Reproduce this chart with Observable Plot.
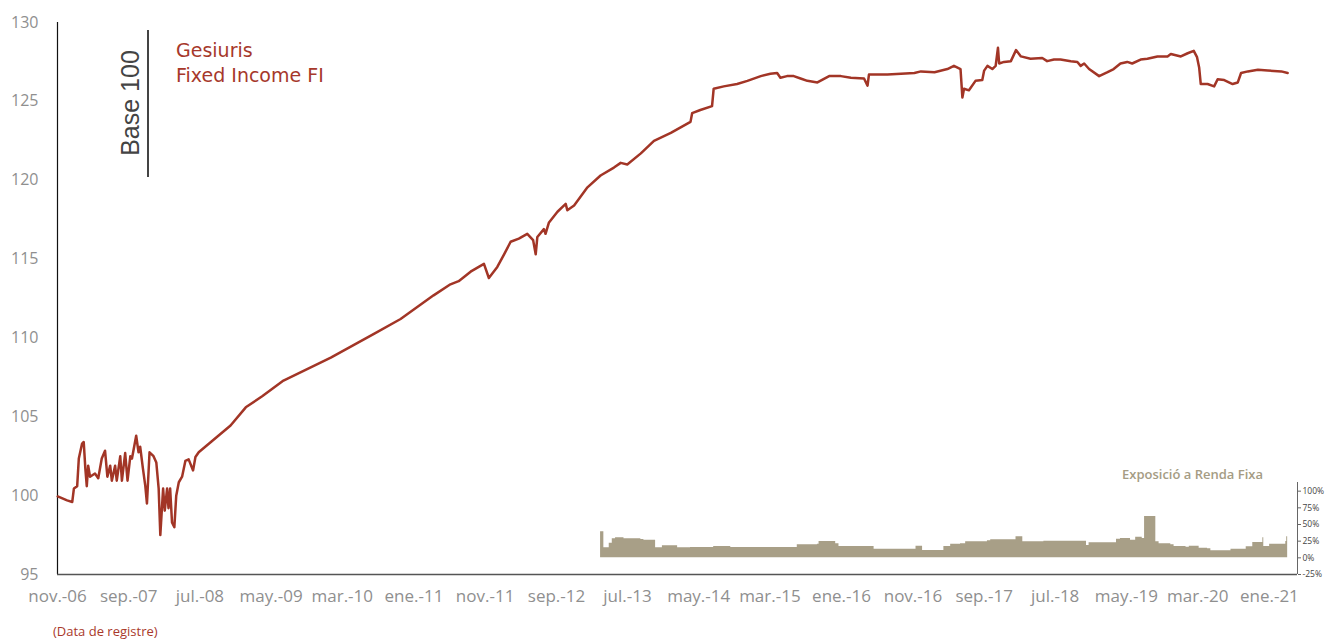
<!DOCTYPE html>
<html>
<head>
<meta charset="utf-8">
<script src="https://cdn.jsdelivr.net/npm/d3@7"></script>
<script src="https://cdn.jsdelivr.net/npm/@observablehq/plot@0.6"></script>
<style>
  body { margin: 0; background: #fff; font-family: "Open Sans", "Noto Sans", sans-serif; }
  #wrap { position: relative; width: 1326px; height: 615px; }
  #wrap svg { position: absolute; left: 0; top: 0; }
  .ann { position: absolute; white-space: nowrap; }
</style>
</head>
<body>
<div id="wrap"></div>
<div id="caption" style="margin-left:53px;margin-top:7px;font-size:13px;color:#a9392b;">(Data de registre)</div>
<script>
// ---- Data: fund NAV (base 100) ----
const navDates = ["2006-11-02","2006-12-12","2007-01-03","2007-01-10","2007-01-24","2007-01-31","2007-02-14","2007-02-21","2007-02-28","2007-03-06","2007-03-12","2007-03-20","2007-04-10","2007-04-24","2007-05-09","2007-05-23","2007-06-02","2007-06-14","2007-06-21","2007-07-05","2007-07-12","2007-07-27","2007-08-03","2007-08-17","2007-08-27","2007-09-08","2007-09-15","2007-10-03","2007-10-13","2007-10-20","2007-11-01","2007-11-11","2007-11-18","2007-11-29","2007-12-16","2007-12-28","2008-01-07","2008-01-14","2008-01-26","2008-02-02","2008-02-12","2008-02-18","2008-02-25","2008-03-04","2008-03-14","2008-03-22","2008-04-02","2008-04-16","2008-04-30","2008-05-14","2008-06-02","2008-06-12","2008-06-26","2008-11-09","2009-01-13","2009-03-24","2009-06-23","2010-01-11","2010-07-20","2010-11-05","2011-03-26","2011-06-06","2011-07-11","2011-08-31","2011-10-27","2011-11-17","2011-12-23","2012-01-21","2012-02-18","2012-03-24","2012-04-29","2012-05-24","2012-06-04","2012-06-11","2012-07-09","2012-07-16","2012-07-30","2012-09-05","2012-10-10","2012-10-17","2012-11-15","2013-01-11","2013-03-08","2013-05-04","2013-06-02","2013-06-30","2013-08-27","2013-10-22","2014-01-02","2014-03-27","2014-04-03","2014-05-08","2014-06-27","2014-07-04","2014-08-16","2014-10-12","2014-11-25","2015-01-21","2015-03-03","2015-04-01","2015-04-15","2015-05-13","2015-06-11","2015-07-10","2015-08-08","2015-09-20","2015-11-09","2015-12-29","2016-02-10","2016-04-06","2016-04-21","2016-04-27","2016-07-15","2016-09-11","2016-11-07","2016-12-05","2017-02-01","2017-03-28","2017-04-25","2017-05-23","2017-05-31","2017-06-07","2017-06-28","2017-07-26","2017-08-24","2017-09-01","2017-09-15","2017-10-06","2017-10-20","2017-10-30","2017-11-04","2017-11-25","2017-12-24","2018-01-15","2018-02-05","2018-03-18","2018-05-07","2018-05-28","2018-06-26","2018-07-24","2018-09-06","2018-10-04","2018-10-18","2018-11-02","2018-11-23","2019-01-05","2019-02-10","2019-03-08","2019-04-06","2019-05-05","2019-05-26","2019-07-01","2019-07-30","2019-09-11","2019-10-24","2019-11-07","2019-12-20","2020-01-18","2020-02-13","2020-02-27","2020-03-07","2020-03-14","2020-04-12","2020-05-10","2020-05-25","2020-06-22","2020-07-28","2020-08-19","2020-09-02","2020-10-01","2020-11-13","2020-12-25","2021-02-21","2021-03-20"];
const navValues = [99.95,99.7,99.6,100.45,100.6,102.35,103.3,103.4,101.7,100.6,101.9,101.2,101.4,101.1,102.35,102.85,101.2,101.9,100.95,101.9,100.95,102.5,100.95,102.7,100.95,102.5,102.35,103.8,102.75,103.1,101.7,100.6,99.5,102.75,102.5,102.1,100.45,97.5,100.45,99.05,100.45,99.2,100.45,98.3,98.0,100.0,100.85,101.2,102.2,102.3,101.6,102.45,102.75,104.45,105.6,106.3,107.3,108.75,110.3,111.2,112.7,113.4,113.6,114.2,114.7,113.8,114.5,115.3,116.1,116.3,116.6,116.2,115.3,116.4,116.9,116.6,117.3,118.0,118.5,118.1,118.4,119.55,120.3,120.8,121.1,121.0,121.7,122.5,123.0,123.7,124.25,124.45,124.7,125.8,125.95,126.1,126.3,126.6,126.75,126.8,126.5,126.6,126.6,126.45,126.3,126.2,126.6,126.6,126.5,126.45,126.0,126.7,126.7,126.75,126.8,126.9,126.85,127.05,127.25,127.05,125.25,125.8,125.7,126.3,126.35,126.95,127.25,127.05,127.25,128.4,127.4,127.5,127.55,128.25,127.85,127.7,127.75,127.55,127.65,127.65,127.55,127.5,127.25,127.4,127.05,126.6,126.85,127.05,127.4,127.5,127.4,127.65,127.7,127.85,127.85,128.0,127.85,128.05,128.2,127.8,127.15,126.1,126.1,125.95,126.4,126.35,126.1,126.2,126.8,126.9,127.0,126.95,126.9,126.8];

// ---- Data: fixed income exposure (%) ----
const expoDates = ["2013-03-08","2013-03-22","2013-04-14","2013-04-27","2013-05-11","2013-06-16","2013-08-27","2013-09-09","2013-10-29","2013-11-27","2014-01-31","2014-03-27","2014-07-04","2014-09-15","2015-06-26","2015-09-20","2015-09-27","2015-12-07","2015-12-21","2016-05-19","2016-11-14","2016-12-12","2017-03-13","2017-04-11","2017-05-23","2017-06-14","2017-09-15","2017-09-29","2018-01-15","2018-02-13","2018-05-14","2018-11-12","2018-11-23","2019-03-20","2019-04-06","2019-05-19","2019-06-10","2019-07-08","2019-07-18","2019-09-04","2019-09-18","2019-11-07","2019-11-21","2020-01-11","2020-01-25","2020-03-07","2020-04-12","2020-04-26","2020-07-21","2020-09-24","2020-10-22","2020-12-04","2020-12-08","2021-01-02","2021-03-12","2021-03-16","2021-03-20"];
const expoValues = [39,15,22,28.5,30,28.5,27.5,26.5,15,18,15,15.5,17,15.5,19.5,20.5,24.5,21,17,13,17.5,11,17,20.5,21,24,25.5,27,31.5,24,25,18.5,22.5,28,29,26.5,31,29,62,24,21,19.5,17,16,17.5,14.5,13.5,10.5,13,16.5,23,30,17,20.5,24.5,31.5,31.5];

// ---- Axes ----
const yTicks = [95,100,105,110,115,120,125,130];
const xTickDates = ["2006-11-01","2007-09-01","2008-07-01","2009-05-01","2010-03-01","2011-01-01","2011-11-01","2012-09-01","2013-07-01","2014-05-01","2015-03-01","2016-01-01","2016-11-01","2017-09-01","2018-07-01","2019-05-01","2020-03-01","2021-01-01"];
const xTickLabels = ["nov.-06","sep.-07","jul.-08","may.-09","mar.-10","ene.-11","nov.-11","sep.-12","jul.-13","may.-14","mar.-15","ene.-16","nov.-16","sep.-17","jul.-18","may.-19","mar.-20","ene.-21"];
const expoTicks = [-25,0,25,50,75,100];
const xDomain = ["2006-11-01","2021-05-01"].map(d => new Date(d));

const nav = navDates.map((d,i) => ({date: new Date(d), value: navValues[i]}));
const expo = expoDates.map((d,i) => ({date: new Date(d), value: expoValues[i]}));
const tickDates = xTickDates.map(d => new Date(d));
const labelMap = new Map(tickDates.map((d,i) => [+d, xTickLabels[i]]));

const W = 1326, H = 615;
const FONT = "'Open Sans', 'Noto Sans', sans-serif";
const common = {width: W, height: H, marginLeft: 57, marginRight: 29, marginTop: 22, marginBottom: 41};

const main = Plot.plot({
  ...common,
  style: {fontFamily: FONT, background: "transparent", overflow: "visible"},
  x: {type: "utc", domain: xDomain},
  y: {domain: [95, 130]},
  marks: [
    Plot.axisY({ticks: yTicks, tickSize: 0, tickPadding: 19, fontSize: 16, fill: "#8f8f8f", label: null, tickFormat: d => String(d)}),
    Plot.axisX({ticks: tickDates, tickSize: 0, tickPadding: 15, fontSize: 17, fill: "#8f8f8f", label: null, tickFormat: d => labelMap.get(+d)}),
    Plot.ruleX([xDomain[0]], {stroke: "#111", strokeWidth: 1.2}),
    Plot.ruleY([95], {stroke: "#555", strokeWidth: 1.6}),
    Plot.line(nav, {x: "date", y: "value", stroke: "#a23526", strokeWidth: 2.5, strokeLinejoin: "round"})
  ]
});

const inset = Plot.plot({
  ...common,
  style: {fontFamily: FONT, background: "transparent", overflow: "visible"},
  x: {type: "utc", domain: xDomain, axis: null},
  y: {domain: [-25, 113], range: [574, 482]},
  marks: [
    Plot.areaY(expo, {x: "date", y: "value", curve: "step-after", fill: "#a89f87"}),
    Plot.ruleX([xDomain[1]], {y1: -25, y2: 113, stroke: "#666", strokeWidth: 1}),
    Plot.axisY({anchor: "right", ticks: expoTicks, tickSize: 3, tickPadding: 2, fontSize: 8.5, fill: "#444", stroke: "#666", label: null, tickFormat: d => d + "%"})
  ]
});

const wrap = document.getElementById("wrap");
wrap.appendChild(main);
wrap.appendChild(inset);

function ann(html, css) {
  const el = document.createElement("div");
  el.className = "ann";
  el.innerHTML = html;
  Object.assign(el.style, css);
  wrap.appendChild(el);
}
ann("Base 100", {left: "65px", top: "88px", width: "130px", height: "30px", lineHeight: "30px", textAlign: "center", fontSize: "25px", color: "#444", fontWeight: "300", transform: "rotate(-90deg)", fontFamily: "'Liberation Sans', Arial, sans-serif"});
ann("", {left: "146.5px", top: "30px", width: "2.5px", height: "147px", background: "#444"});
const LEG = {left: "176px", height: "24px", fontSize: "19px", lineHeight: "24px", color: "#a6382b", fontFamily: "'DejaVu Sans', sans-serif"};
ann("Gesiuris", {...LEG, top: "38px"});
ann("Fixed Income FI", {...LEG, top: "63px"});
ann("Exposició a Renda Fixa", {left: "1122px", top: "465px", fontSize: "13px", color: "#a59c84", fontWeight: "600"});
</script>
</body>
</html>
